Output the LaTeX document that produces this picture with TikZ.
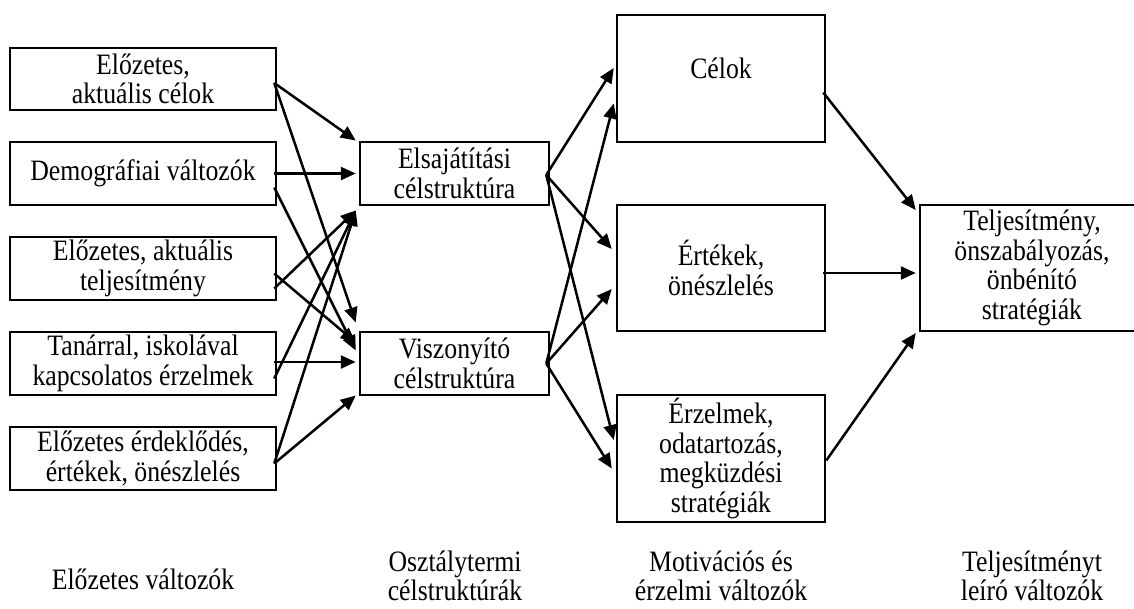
\documentclass[tikz,border=0pt]{standalone}
\usepackage{fontspec}
\setmainfont{Liberation Serif}[FakeStretch=0.87]
\usetikzlibrary{arrows.meta,calc}
\begin{document}
\begin{tikzpicture}[x=1pt,y=-1pt,
  txt/.style={align=center,inner sep=0pt,font=\fontsize{29.6}{29.5}\selectfont},
  box/.style={txt,draw,line width=2.5pt},
  arr/.style={line width=2.5pt,-{Triangle[length=15pt,width=13pt]}}]
\useasboundingbox (0,0) rectangle (1134,608);

% first column: prior variables
\node[box,minimum width=266,minimum height=62] (l1) at (143,79) {Előzetes,\\aktuális célok};
\node[box,minimum width=266,minimum height=63] (l2) at (143,173.5) {Demográfiai változók};
\node[box,minimum width=266,minimum height=63] (l3) at (143,268.5) {Előzetes, aktuális\\teljesítmény};
\node[box,minimum width=266,minimum height=63] (l4) at (143,363.5) {Tanárral, iskolával\\kapcsolatos érzelmek};
\node[box,minimum width=266,minimum height=63] (l5) at (143,458.5) {Előzetes érdeklődés,\\értékek, önészlelés};

% second column: classroom goal structures
\node[box,minimum width=189,minimum height=63] (m1) at (454.5,173.5) {Elsajátítási\\célstruktúra};
\node[box,minimum width=189,minimum height=63] (m2) at (454.5,363.5) {Viszonyító\\célstruktúra};

% third column: motivational and emotional variables
\node[box,minimum width=208,minimum height=127] (r1) at (721,78.5) {};
\node[txt] (r1t) at ($(r1.center)+(0,-10)$) {Célok};
\node[box,minimum width=208,minimum height=126] (r2) at (721,268) {Értékek,\\önészlelés};
\node[box,minimum width=208,minimum height=127] (r3) at (721,458.5) {Érzelmek,\\odatartozás,\\megküzdési\\stratégiák};

% fourth column: outcome
\node[box,minimum width=224,minimum height=126] (t) at (1032,268) {Teljesítmény,\\önszabályozás,\\önbénító\\stratégiák};

% column captions
\node[txt] (c1) at (143,579) {Előzetes változók};
\node[txt] (c2) at (455,576) {Osztálytermi\\célstruktúrák};
\node[txt] (c3) at (721,576) {Motivációs és\\érzelmi változók};
\node[txt] (c4) at (1032,576) {Teljesítményt\\leíró változók};

% prior variables -> goal structures
\draw[arr] ($(l1.east)+(-3,4)$) -- ($(m1.west)+(-3,-33)$);
\draw[arr] ($(l1.east)+(-3,4)$) -- ($(m2.west)+(-3,-41)$);
\draw[arr] ($(l2.east)+(-3,0)$) -- ($(m1.west)+(-3,0)$);
\draw[arr] ($(l2.east)+(-3,14)$) -- ($(m2.west)+(-3,-13)$);
\draw[arr] ($(l3.east)+(-3,5)$) -- ($(m2.west)+(-3,-21)$);
\draw[arr] ($(l3.east)+(-3,20)$) -- ($(m1.west)+(-3,37)$);
\draw[arr] ($(l4.east)+(-3,-1.5)$) -- ($(m2.west)+(-3,-1.5)$);
\draw[arr] ($(l4.east)+(-3,15)$) -- ($(m1.west)+(-3,37)$);
\draw[arr] ($(l5.east)+(-3,5)$) -- ($(m1.west)+(-3,37)$);
\draw[arr] ($(l5.east)+(-3,5)$) -- ($(m2.west)+(-3,32)$);

% goal structures -> motivational variables
\draw[arr] ($(m1.east)+(-4,1.5)$) -- ($(r1.west)+(-2,-10.5)$);
\draw[arr] ($(m1.east)+(-4,1.5)$) -- ($(r2.west)+(-4,-19)$);
\draw[arr] ($(m1.east)+(-4,1.5)$) -- ($(r3.west)+(-2,-18.5)$);
\draw[arr] ($(m2.east)+(-4,0)$) -- ($(r1.west)+(-2,25)$);
\draw[arr] ($(m2.east)+(-4,0)$) -- ($(r2.west)+(-4,21)$);
\draw[arr] ($(m2.east)+(-4,0)$) -- ($(r3.west)+(-4,10)$);

% motivational variables -> outcome
\draw[arr] ($(r1.east)+(-3,14)$) -- ($(t.west)+(-3,-58)$);
\draw[arr] ($(r2.east)+(-3,5)$) -- ($(t.west)+(-3,5)$);
\draw[arr] ($(r3.east)+(0,2)$) -- ($(t.west)+(-3,65)$);
\end{tikzpicture}
\end{document}
